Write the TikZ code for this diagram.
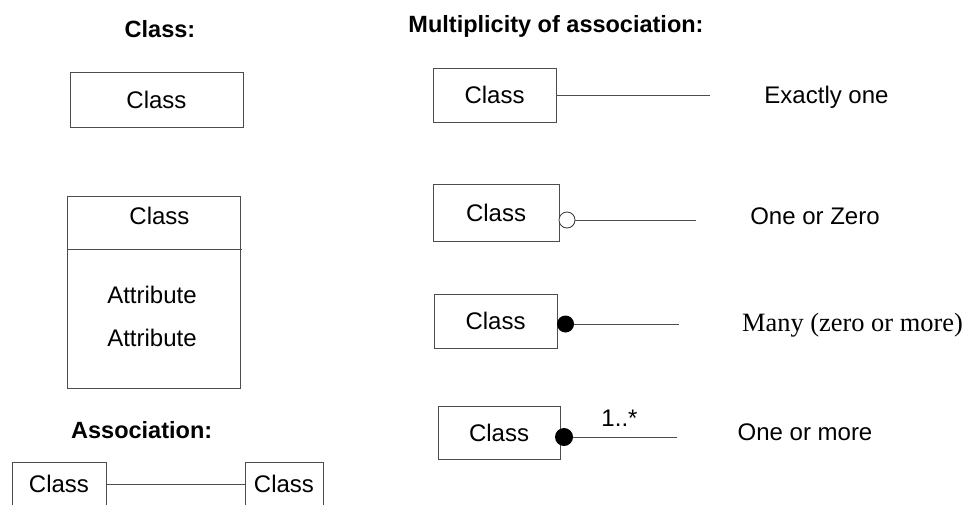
\documentclass[tikz,border=0pt]{standalone}
\usepackage{fontspec}
\setmainfont{Liberation Sans}
\newfontfamily\timesfont{Liberation Serif}
\begin{document}
\begin{tikzpicture}[x=1pt,y=-1pt,
  umlbox/.style={draw=black!70, line width=1pt, rectangle, inner sep=0pt,
                 font=\fontsize{24}{28}\selectfont},
  lbl/.style={inner sep=0pt, anchor=base, font=\fontsize{24}{28}\selectfont},
  head/.style={inner sep=0pt, anchor=base, font=\fontsize{23.5}{28}\selectfont\bfseries},
  link/.style={draw=black!70, line width=1pt},
  hollowend/.style={circle, draw=black!80, fill=white, line width=0.8pt,
                    inner sep=0pt, minimum size=16pt},
  filledend/.style={circle, fill=black, inner sep=0pt, minimum size=17pt},
]
\useasboundingbox (0,0) rectangle (968,504);
\clip (0,0) rectangle (968,504);

% --- class notation ---
\node[head] (h1) at (160,37) {Class:};
\node[umlbox, minimum width=173pt, minimum height=55pt] (cls) at (156.5,99.5) {Class};

\node[umlbox, minimum width=173pt, minimum height=192pt] (full) at (153.5,292) {};
\coordinate (divR) at (242,249);
\draw[link] (full.west |- divR) -- (divR);
\node[lbl] (fullname) at (159.5,224.6) {Class};
\node[lbl] (attr1) at (152,303.6) {Attribute};
\node[lbl] (attr2) at (152,346.1) {Attribute};

% --- association ---
\node[head] (h3) at (141.7,438) {Association:};
\node[umlbox, minimum width=94pt, minimum height=44pt] (a1) at (59,484) {Class};
\node[umlbox, minimum width=78pt, minimum height=44pt] (a2) at (284,484) {Class};
\draw[link] (a1) -- (a2);

% --- multiplicity ---
\node[head] (h2) at (556,32) {Multiplicity of association:};

\node[umlbox, minimum width=123pt, minimum height=54pt] (m1) at (494.5,95) {Class};
\coordinate (e1) at (710,95);
\draw[link] (m1) -- (e1);
\node[lbl] (t1) at (826.5,103.3) {Exactly one};

\node[umlbox, minimum width=126pt, minimum height=57pt] (m2) at (496,212.5) {Class};
\node[hollowend] (o2) at (567,220) {};
\coordinate (e2) at (696,220);
\draw[link] (o2) -- (e2);
\node[lbl] (t2) at (815,224.5) {One or Zero};

\node[umlbox, minimum width=123pt, minimum height=54pt] (m3) at (495.5,321) {Class};
\node[filledend] (o3) at (565.5,324) {};
\coordinate (e3) at (679,324);
\draw[link] (o3) -- (e3);
\node[lbl, anchor=base east, font=\timesfont\fontsize{26.4}{30}\selectfont] (t3) at (963,331.7) {Many (zero or more)};

\node[umlbox, minimum width=122pt, minimum height=53pt] (m4) at (499,432.5) {Class};
\node[filledend, minimum size=18pt] (o4) at (564,437) {};
\coordinate (e4) at (677,437);
\draw[link] (o4) -- (e4);
\node[lbl] (mult) at (619.5,426) {1..*};
\node[lbl] (t4) at (805,440.6) {One or more};
\end{tikzpicture}
\end{document}
